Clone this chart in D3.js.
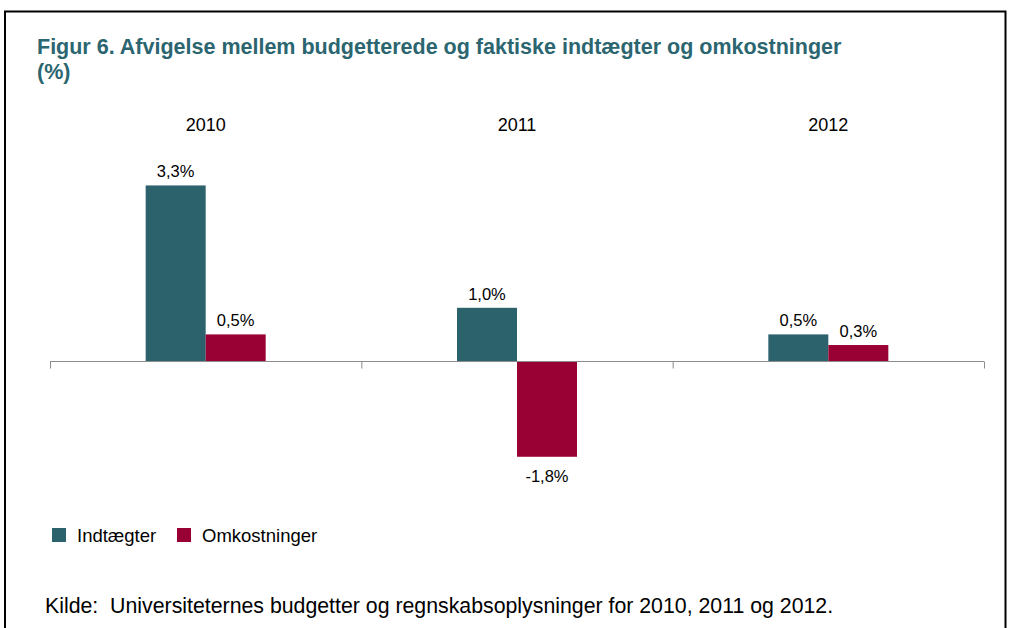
<!DOCTYPE html>
<html>
<head>
<meta charset="utf-8">
<script src="https://cdn.jsdelivr.net/npm/d3@7"></script>
<style>
  body { margin: 0; background: #fff; }
  svg { font-family: "Liberation Sans", Arial, sans-serif; }
</style>
</head>
<body>
<div id="viz"></div>
<script>
const years = ['2010', '2011', '2012'];
const seriesNames = ['Indtægter', 'Omkostninger'];
const indtaegter = [3.3, 1.0, 0.5];
const omkostninger = [0.5, -1.8, 0.3];
const colors = ['#2b626c', '#990033'];

const width = 1011;
const height = 628;
const plot = { left: 50, right: 984, zero: 361 };
const pxPerPct = 53.2;

const svg = d3.select('#viz')
    .append('svg')
    .attr('width', width)
    .attr('height', height);

// frame
svg.append('path')
    .attr('d', `M5,${height + 5} V11.5 H1005.5 V${height + 5}`)
    .attr('fill', 'none')
    .attr('stroke', '#000')
    .attr('stroke-width', 2);

// title
const title = svg.append('text')
    .attr('x', 37)
    .attr('y', 54)
    .attr('fill', '#2b6670')
    .attr('font-size', 21.5)
    .attr('font-weight', 'bold');
title.append('tspan').text('Figur 6. Afvigelse mellem budgetterede og faktiske indtægter og omkostninger');
title.append('tspan').attr('x', 37).attr('dy', 25).text('(%)');

const x0 = d3.scaleBand()
    .domain(years)
    .range([plot.left, plot.right]);

const x1 = d3.scaleBand()
    .domain(seriesNames)
    .range([0, 120]);

const y = d3.scaleLinear()
    .domain([-1.8, 3.3])
    .range([plot.zero + 1.8 * pxPerPct, plot.zero - 3.3 * pxPerPct]);

// year labels at top
svg.selectAll('.year')
    .data(years)
    .join('text')
    .attr('class', 'year')
    .attr('x', d => x0(d) + x0.bandwidth() / 2)
    .attr('y', 131)
    .attr('text-anchor', 'middle')
    .attr('font-size', 18)
    .attr('fill', '#000')
    .text(d => d);

const rows = years.map((yr, i) => ({
    year: yr,
    values: [
        { name: seriesNames[0], v: indtaegter[i] },
        { name: seriesNames[1], v: omkostninger[i] }
    ]
}));

const fmt = v => d3.format('.1f')(v).replace('.', ',').replace('−', '-') + '%';

const groups = svg.selectAll('.grp')
    .data(rows)
    .join('g')
    .attr('class', 'grp')
    .attr('transform', d => `translate(${x0(d.year) + x0.bandwidth() / 2 - 60},0)`);

groups.selectAll('rect')
    .data(d => d.values)
    .join('rect')
    .attr('x', d => x1(d.name))
    .attr('y', d => y(Math.max(0, d.v)))
    .attr('width', x1.bandwidth())
    .attr('height', d => Math.abs(y(d.v) - y(0)))
    .attr('fill', (d, i) => colors[i]);

groups.selectAll('.lbl')
    .data(d => d.values)
    .join('text')
    .attr('class', 'lbl')
    .attr('x', d => x1(d.name) + x1.bandwidth() / 2)
    .attr('y', d => d.v >= 0 ? y(d.v) - 8 : y(d.v) + 25)
    .attr('text-anchor', 'middle')
    .attr('font-size', 16.5)
    .attr('fill', '#000')
    .text(d => fmt(d.v));

// zero axis with ticks
const axis = d3.axisBottom(d3.scaleLinear().domain([0, 3]).range([plot.left, plot.right]))
    .ticks(3)
    .tickSize(7)
    .tickFormat('');
const ax = svg.append('g')
    .attr('transform', `translate(0,${plot.zero + 0.5})`)
    .call(axis);
ax.select('.domain').attr('stroke', '#8c8c8c').attr('d', `M${plot.left},0H${plot.right}`);
ax.selectAll('.tick line').attr('stroke', '#8c8c8c');

// legend
const legend = svg.append('g')
    .attr('transform', 'translate(52,528)');
const lx = [0, 125];
seriesNames.forEach((name, i) => {
    legend.append('rect')
        .attr('x', lx[i])
        .attr('y', 0)
        .attr('width', 14)
        .attr('height', 14)
        .attr('fill', colors[i]);
    legend.append('text')
        .attr('x', lx[i] + 25)
        .attr('y', 13.5)
        .attr('font-size', 18.5)
        .attr('fill', '#000')
        .text(name);
});

// source
svg.append('text')
    .attr('x', 45)
    .attr('y', 613)
    .attr('font-size', 21.3)
    .attr('fill', '#000')
    .attr('xml:space', 'preserve')
    .style('white-space', 'pre')
    .text('Kilde:  Universiteternes budgetter og regnskabsoplysninger for 2010, 2011 og 2012.');
</script>
</body>
</html>
